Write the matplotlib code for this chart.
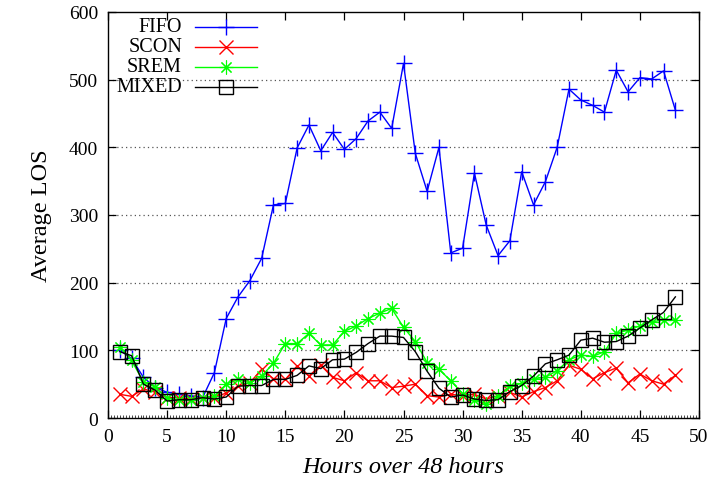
import matplotlib
matplotlib.use("Agg")
import matplotlib.pyplot as plt
from matplotlib.ticker import MultipleLocator
from matplotlib.patches import Rectangle
from matplotlib.lines import Line2D

hours = list(range(1, 49))
fifo = [100, 88, 60, 45, 38, 35, 33, 30, 67, 147, 179, 203, 236, 315, 317, 399,
        433, 395, 422, 397, 413, 439, 452, 428, 524, 391, 335, 400, 244, 251, 362, 285,
        240, 262, 364, 315, 349, 400, 486, 470, 462, 452, 514, 482, 503, 501, 513, 455]
scon = [35, 32, 43, 38, 30, 30, 28, 30, 30, 37, 47, 52, 72, 58, 57, 77,
        62, 78, 60, 55, 67, 55, 55, 45, 47, 50, 33, 31, 35, 33, 35, 28,
        33, 38, 31, 39, 45, 55, 78, 72, 58, 67, 74, 52, 65, 55, 50, 63]
srem = [105, 85, 53, 46, 29, 26, 27, 29, 32, 50, 57, 52, 62, 81, 110, 110,
        125, 108, 108, 128, 136, 147, 155, 162, 134, 113, 82, 72, 55, 36, 26, 21,
        32, 47, 51, 58, 60, 70, 86, 93, 91, 98, 125, 130, 136, 142, 145, 145]
mixed = [98, 92, 50, 41, 25, 27, 27, 30, 28, 31, 47, 48, 48, 57, 57, 63,
         77, 73, 86, 87, 97, 110, 121, 121, 119, 98, 69, 44, 31, 34, 28, 26,
         27, 39, 48, 62, 80, 86, 93, 115, 118, 112, 113, 121, 133, 145, 156, 179]

series_names = ["FIFO", "SCON", "SREM", "MIXED"]
series_colors = ["#0000ff", "#ff0000", "#00ff00", "#000000"]
series_markers = ["+", "x", (8, 2, 0), "s"]
x_ticks = list(range(0, 51, 5))
y_ticks = list(range(0, 601, 100))

serif = ["Liberation Serif", "DejaVu Serif"]
plt.rcParams["font.family"] = serif

fig = plt.figure(figsize=(7.12, 4.85), dpi=100)
ax = fig.add_axes([108 / 712, 1 - 419 / 485, (699 - 108) / 712, (419 - 13) / 485])

ax.set_xlim(0, 50)
ax.set_ylim(0, 600)
ax.set_xticks(x_ticks)
ax.set_yticks(y_ticks)
ax.xaxis.set_minor_locator(MultipleLocator(0.25))
ax.tick_params(which="major", direction="in", length=6, width=0.9, top=True, right=True,
               labelsize=14, pad=7)
ax.tick_params(which="minor", axis="x", direction="in", length=2, width=0.5, top=False)
for sp in ax.spines.values():
    sp.set_linewidth(1.0)

for yv in y_ticks[1:-1]:
    ax.axhline(yv, color="#555555", linestyle=(0, (1, 2.5)), linewidth=0.9, zorder=1)

# blank area behind the key
ax.add_patch(Rectangle((0, 0.845), 0.27, 0.16, transform=ax.transAxes,
                       facecolor="white", edgecolor="none", zorder=1.5))

data = [fifo, scon, srem, mixed]
msizes = [12, 9.5, 10, 10]
mews = [1.0, 1.0, 0.8, 1.0]
for name, vals, c, m, ms, mew in zip(series_names, data, series_colors, series_markers, msizes, mews):
    kw = dict(color=c, marker=m, markersize=ms, linewidth=1.0, markeredgewidth=mew, zorder=3)
    if m == "s":
        kw["markerfacecolor"] = "none"
    ax.plot(hours, vals, **kw)

# key
key_y = [28, 48, 68, 88]
for name, c, m, ms, mew, py in zip(series_names, series_colors, series_markers, msizes, mews, key_y):
    yf = 1 - (py - 13) / (419 - 13)
    x0 = (195 - 108) / 591
    x1 = (257 - 108) / 591
    xm = (226 - 108) / 591
    ax.add_line(Line2D([x0, x1], [yf, yf], transform=ax.transAxes, color=c,
                       linewidth=1.0, zorder=4))
    kw = dict(color=c, marker=m, markersize=ms, markeredgewidth=mew)
    if m == "s":
        kw["markerfacecolor"] = "none"
    ax.add_line(Line2D([xm], [yf], transform=ax.transAxes, linestyle="none", zorder=4, **kw))
    ax.text((182 - 108) / 591, yf, name, transform=ax.transAxes, ha="right", va="center",
            fontsize=14.5, zorder=4)

ax.set_ylabel("Average LOS", fontsize=17.5, labelpad=12)
ax.set_xlabel("Hours over 48 hours", fontsize=17.5, fontstyle="italic", labelpad=8)

fig.savefig("out.png", dpi=100)
